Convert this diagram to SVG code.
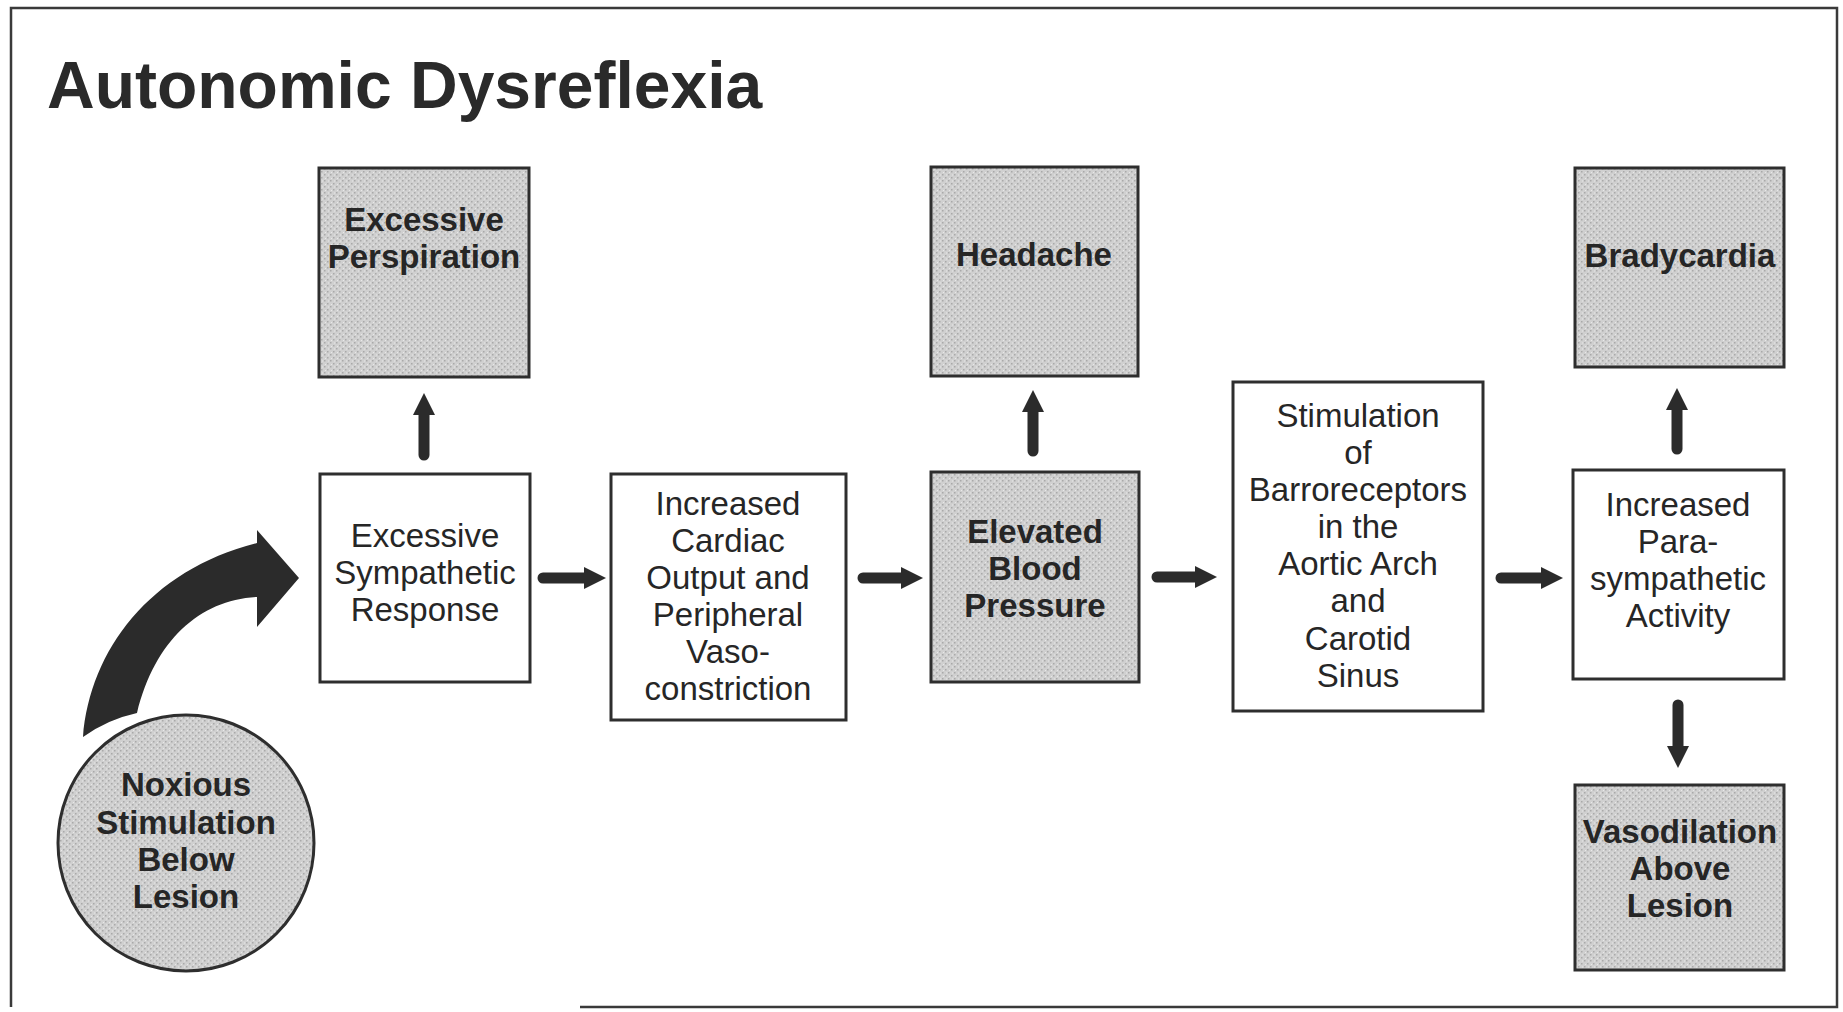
<svg xmlns="http://www.w3.org/2000/svg" width="1843" height="1012" viewBox="0 0 1843 1012">
  <defs>
    <pattern id="stipple" width="6" height="6" patternUnits="userSpaceOnUse">
      <rect width="6" height="6" fill="#d0d0d0"/>
      <rect x="0" y="0" width="1.5" height="1.5" fill="#a9a9a9"/>
      <rect x="3" y="3" width="1.5" height="1.5" fill="#a9a9a9"/>
      <rect x="4" y="0.5" width="1" height="1" fill="#e8e8e8"/>
      <rect x="1" y="4" width="1" height="1" fill="#e8e8e8"/>
    </pattern>
    <marker id="head" viewBox="0 0 22 22" markerUnits="userSpaceOnUse" markerWidth="22" markerHeight="22" refX="2" refY="11" orient="auto">
      <path d="M0,0 L22,11 L0,22 Z" fill="#2b2b2b"/>
    </marker>
  </defs>
  <style>
    .frame { fill: none; stroke: #3a3a3a; stroke-width: 2.5; }
    .title { font-family: "Liberation Sans", Arial, sans-serif; font-weight: bold; font-size: 66px; fill: #2a2a2a; }
    .box { fill: #ffffff; stroke: #2e2e2e; stroke-width: 3; }
    .gbox { fill: url(#stipple); stroke: #2e2e2e; stroke-width: 3; }
    .t { font-family: "Liberation Sans", Arial, sans-serif; font-size: 33px; fill: #262626; text-anchor: middle; }
    .b { font-weight: bold; }
    .arrow { stroke: #2b2b2b; stroke-width: 11; stroke-linecap: round; fill: none; marker-end: url(#head); }
  </style>

  <rect x="0" y="0" width="1843" height="1012" fill="#ffffff"/>
  <path class="frame" d="M 11 1007 L 11 8 L 1837 8 L 1837 1007 L 580 1007"/>
  <text class="title" x="47" y="108">Autonomic Dysreflexia</text>

  <g id="noxious">
    <circle cx="186" cy="843" r="128" fill="url(#stipple)" stroke="#2e2e2e" stroke-width="3"/>
    <text class="t b" x="186" y="796">Noxious</text>
    <text class="t b" x="186" y="834">Stimulation</text>
    <text class="t b" x="186" y="871">Below</text>
    <text class="t b" x="186" y="908">Lesion</text>
  </g>

  <g id="excessive-perspiration">
    <rect class="gbox" x="319" y="168" width="210" height="209"/>
    <text class="t b" x="424" y="231">Excessive</text>
    <text class="t b" x="424" y="268">Perspiration</text>
  </g>

  <g id="excessive-sympathetic">
    <rect class="box" x="320" y="474" width="210" height="208"/>
    <text class="t" x="425" y="547">Excessive</text>
    <text class="t" x="425" y="584">Sympathetic</text>
    <text class="t" x="425" y="621">Response</text>
  </g>

  <g id="cardiac-output">
    <rect class="box" x="611" y="474" width="235" height="246"/>
    <text class="t" x="728" y="515">Increased</text>
    <text class="t" x="728" y="552">Cardiac</text>
    <text class="t" x="728" y="589">Output and</text>
    <text class="t" x="728" y="626">Peripheral</text>
    <text class="t" x="728" y="663">Vaso-</text>
    <text class="t" x="728" y="700">constriction</text>
  </g>

  <g id="headache">
    <rect class="gbox" x="931" y="167" width="207" height="209"/>
    <text class="t b" x="1034" y="266">Headache</text>
  </g>

  <g id="elevated-bp">
    <rect class="gbox" x="931" y="472" width="208" height="210"/>
    <text class="t b" x="1035" y="543">Elevated</text>
    <text class="t b" x="1035" y="580">Blood</text>
    <text class="t b" x="1035" y="617">Pressure</text>
  </g>

  <g id="barroreceptors">
    <rect class="box" x="1233" y="382" width="250" height="329"/>
    <text class="t" x="1358" y="427">Stimulation</text>
    <text class="t" x="1358" y="464">of</text>
    <text class="t" x="1358" y="501">Barroreceptors</text>
    <text class="t" x="1358" y="538">in the</text>
    <text class="t" x="1358" y="575">Aortic Arch</text>
    <text class="t" x="1358" y="612">and</text>
    <text class="t" x="1358" y="650">Carotid</text>
    <text class="t" x="1358" y="687">Sinus</text>
  </g>

  <g id="bradycardia">
    <rect class="gbox" x="1575" y="168" width="209" height="199"/>
    <text class="t b" x="1680" y="267">Bradycardia</text>
  </g>

  <g id="parasympathetic">
    <rect class="box" x="1573" y="470" width="211" height="209"/>
    <text class="t" x="1678" y="516">Increased</text>
    <text class="t" x="1678" y="553">Para-</text>
    <text class="t" x="1678" y="590">sympathetic</text>
    <text class="t" x="1678" y="627">Activity</text>
  </g>

  <g id="vasodilation">
    <rect class="gbox" x="1575" y="785" width="209" height="185"/>
    <text class="t b" x="1680" y="843">Vasodilation</text>
    <text class="t b" x="1680" y="880">Above</text>
    <text class="t b" x="1680" y="917">Lesion</text>
  </g>

  <g id="connectors">
    <path d="M 83 737 C 90 650, 150 570, 257 543 L 257 530 L 299 578 L 257 627 L 257 597 C 200 600, 155 640, 137 713 A 145 145 0 0 0 83 737 Z" fill="#2b2b2b"/>
    <line class="arrow" x1="543" y1="578" x2="586" y2="578"/>
    <line class="arrow" x1="863" y1="578" x2="903" y2="578"/>
    <line class="arrow" x1="1157" y1="577" x2="1197" y2="577"/>
    <line class="arrow" x1="1501" y1="578" x2="1543" y2="578"/>
    <line class="arrow" x1="424" y1="455" x2="424" y2="413"/>
    <line class="arrow" x1="1033" y1="451" x2="1033" y2="410"/>
    <line class="arrow" x1="1677" y1="449" x2="1677" y2="408"/>
    <line class="arrow" x1="1678" y1="705" x2="1678" y2="748"/>
  </g>
</svg>
